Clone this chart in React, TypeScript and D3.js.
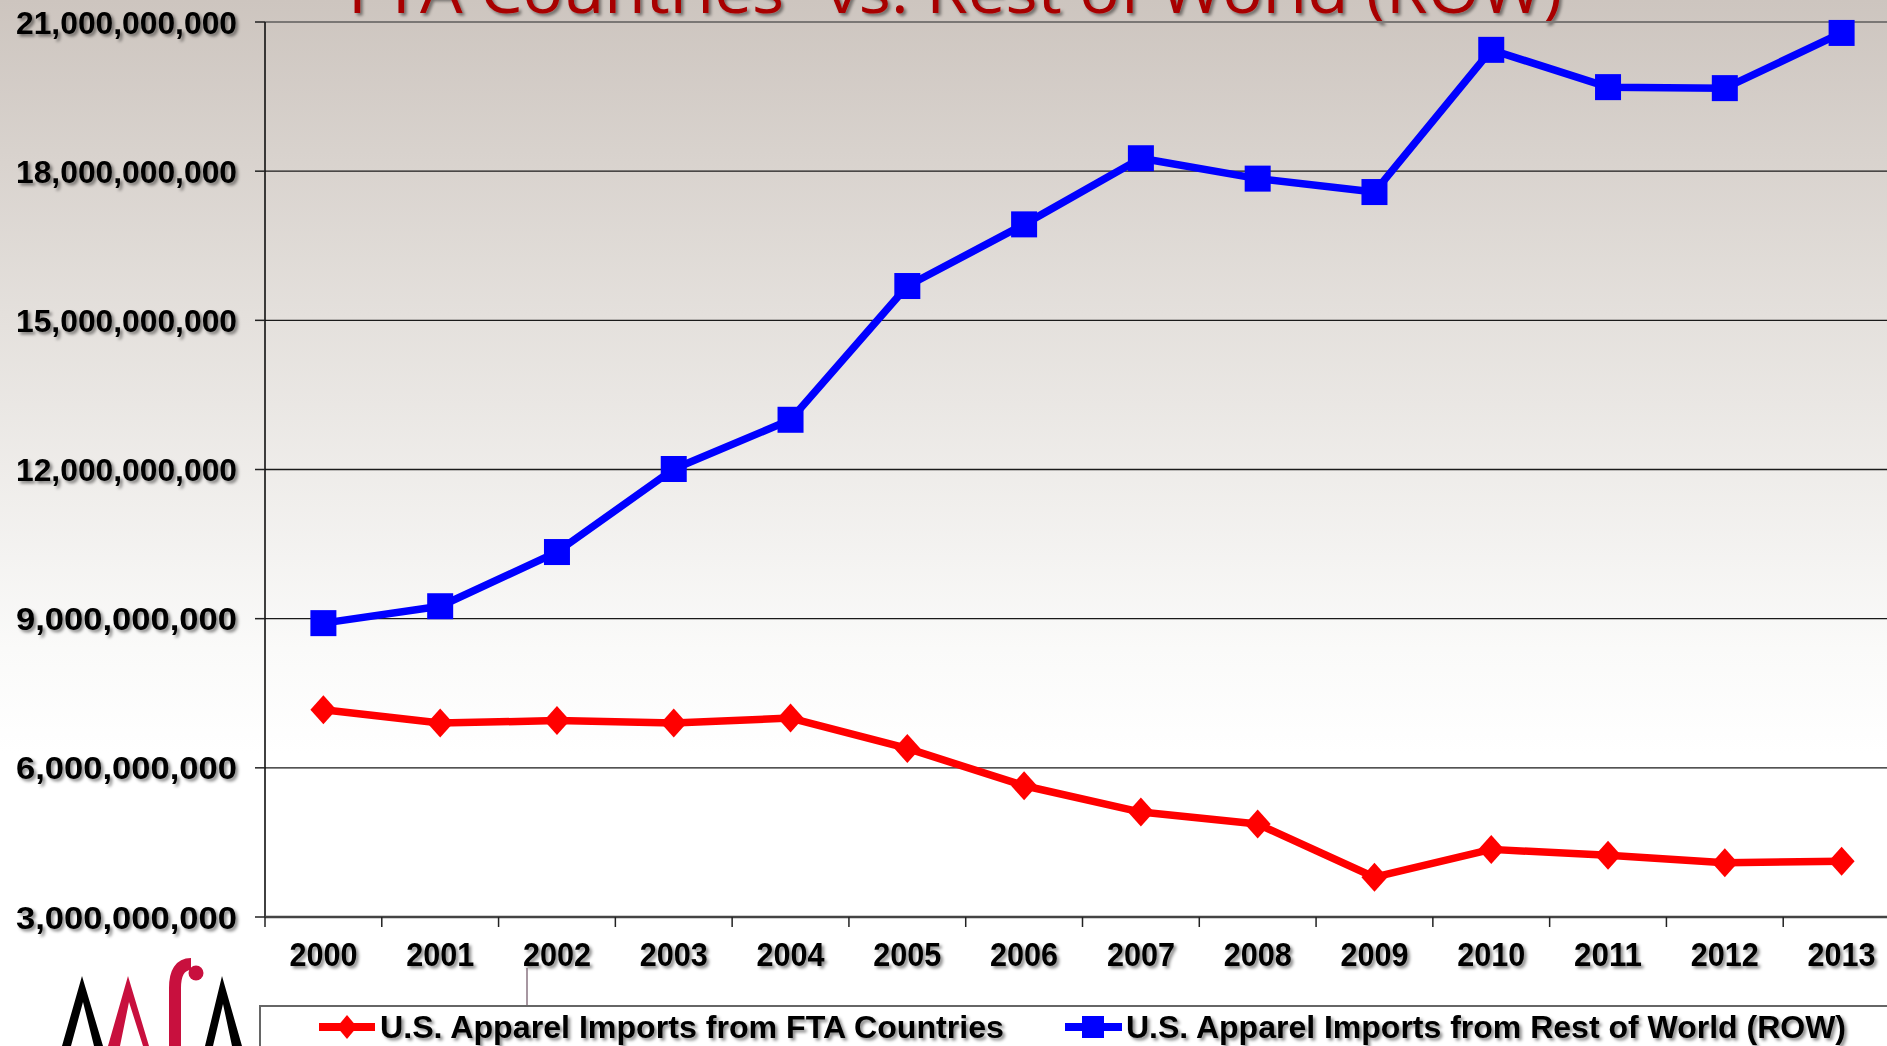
import React from 'react';
import * as d3 from 'd3';

// years on the category axis
const years = ['2000', '2001', '2002', '2003', '2004', '2005', '2006', '2007', '2008', '2009', '2010', '2011', '2012', '2013'];

// U.S. apparel imports, US dollars
const ftaImports = [7.17e9, 6.9e9, 6.95e9, 6.9e9, 7.0e9, 6.39e9, 5.64e9, 5.11e9, 4.87e9, 3.8e9, 4.36e9, 4.24e9, 4.09e9, 4.12e9];
const rowImports = [8.91e9, 9.25e9, 10.34e9, 12.01e9, 13.0e9, 15.69e9, 16.93e9, 18.26e9, 17.85e9, 17.58e9, 20.44e9, 19.69e9, 19.67e9, 20.78e9];

const yTicks = [3e9, 6e9, 9e9, 12e9, 15e9, 18e9, 21e9];

const ftaLabel = 'U.S. Apparel Imports from FTA Countries';
const rowLabel = 'U.S. Apparel Imports from Rest of World (ROW)';
const titleLine = 'FTA Countries\u201D vs. Rest of World (ROW)';

const W = 1887;
const H = 1046;

export default function App() {
  const margin = {left: 265, top: 22, right: 1900, bottom: 917};

  const x = d3.scaleBand().domain(years).range([margin.left, margin.right]).padding(0);
  const y = d3.scaleLinear().domain([3e9, 21e9]).range([margin.bottom, margin.top]);
  const cx = (yr: string) => (x(yr) as number) + x.bandwidth() / 2;

  const line = d3.line<number>()
    .x((_, i) => cx(years[i]))
    .y(d => y(d));

  const fmt = d3.format(',');
  const labelFont = '"Liberation Sans", Arial, sans-serif';

  const diamond = (px: number, py: number, w: number, h: number) =>
    `M${px},${py - h / 2}L${px + w / 2},${py}L${px},${py + h / 2}L${px - w / 2},${py}Z`;

  // band edges for x ticks
  const edges = years.map(yr => x(yr) as number).concat([margin.right]);

  return (
    <svg width={W} height={H} style={{position: 'absolute', left: 0, top: 0, display: 'block'}}>
      <defs>
        <linearGradient id="bg" x1="0" y1="0" x2="0" y2="1">
          <stop offset="0" stopColor="#cdc5bf" />
          <stop offset="0.3" stopColor="#e4e0dc" />
          <stop offset="0.62" stopColor="#fafaf9" />
          <stop offset="0.72" stopColor="#ffffff" />
          <stop offset="1" stopColor="#ffffff" />
        </linearGradient>
        <filter id="shadow" x="-10%" y="-30%" width="120%" height="160%">
          <feDropShadow dx="2.5" dy="2.5" stdDeviation="1.4" floodColor="#000" floodOpacity="0.45" />
        </filter>
      </defs>

      <rect x={0} y={0} width={W} height={H} fill="url(#bg)" />

      {/* title, cut off at top as in the slide */}
      <text x={348} y={13} fill="#a80000" fontFamily='"Open Sans", sans-serif' fontSize={64}
        textLength={1214} lengthAdjust="spacingAndGlyphs" filter="url(#shadow)">{titleLine}</text>

      {/* gridlines */}
      {yTicks.filter(t => t > 3e9).map(t => (
        <line key={t} x1={margin.left} x2={W} y1={y(t)} y2={y(t)}
          stroke={t === 21e9 ? '#7a7775' : '#1a1a1a'} strokeWidth={t === 21e9 ? 2 : 1.4} />
      ))}

      {/* y axis */}
      <line x1={margin.left} x2={margin.left} y1={margin.top} y2={margin.bottom} stroke="#111" strokeWidth={1.6} />
      {yTicks.map(t => (
        <g key={t}>
          <line x1={margin.left - 10} x2={margin.left} y1={y(t)} y2={y(t)} stroke="#222" strokeWidth={1.5} />
          <text x={237} y={y(t)} dy="0.36em" textAnchor="end" fontFamily={labelFont} fontWeight="bold"
            fontSize={32} fill="#000" textLength={221} lengthAdjust="spacingAndGlyphs"
            filter="url(#shadow)">{fmt(t)}</text>
        </g>
      ))}

      {/* x axis */}
      <line x1={margin.left} x2={W} y1={margin.bottom} y2={margin.bottom} stroke="#444" strokeWidth={2.5} />
      {edges.map((e, i) => (
        <line key={i} x1={e} x2={e} y1={margin.bottom} y2={margin.bottom + 10} stroke="#222" strokeWidth={1.5} />
      ))}
      {years.map(yr => (
        <text key={yr} x={cx(yr)} y={966} textAnchor="middle" fontFamily={labelFont} fontWeight="bold"
          fontSize={33} fill="#000" textLength={68} lengthAdjust="spacingAndGlyphs"
          filter="url(#shadow)">{yr}</text>
      ))}

      {/* series */}
      <path d={line(rowImports) as string} fill="none" stroke="#0000ff" strokeWidth={7.5} strokeLinejoin="round" />
      {rowImports.map((v, i) => (
        <rect key={i} x={cx(years[i]) - 13} y={y(v) - 13} width={26} height={26} fill="#0000ff" />
      ))}
      <path d={line(ftaImports) as string} fill="none" stroke="#ff0000" strokeWidth={7.5} strokeLinejoin="round" />
      {ftaImports.map((v, i) => (
        <path key={i} d={diamond(cx(years[i]), y(v), 26, 29)} fill="#ff0000" />
      ))}

      {/* connector from axis label to legend */}
      <line x1={527} x2={527} y1={968} y2={1006} stroke="#8a7482" strokeWidth={1.5} />

      {/* legend */}
      <rect x={260} y={1006} width={W} height={80} fill="#ffffff" stroke="#666" strokeWidth={2} />
      <line x1={319} x2={375} y1={1027} y2={1027} stroke="#ff0000" strokeWidth={8} />
      <path d={diamond(347, 1027, 20, 24)} fill="#ff0000" />
      <text x={380} y={1038} fontFamily={labelFont} fontWeight="bold" fontSize={31} fill="#000"
        textLength={624} lengthAdjust="spacingAndGlyphs" filter="url(#shadow)">{ftaLabel}</text>
      <line x1={1065} x2={1122} y1={1027} y2={1027} stroke="#0000ff" strokeWidth={8} />
      <rect x={1082} y={1016} width={22} height={22} fill="#0000ff" />
      <text x={1126} y={1038} fontFamily={labelFont} fontWeight="bold" fontSize={31} fill="#000"
        textLength={720} lengthAdjust="spacingAndGlyphs" filter="url(#shadow)">{rowLabel}</text>

      {/* AAFA logo */}
      <g>
        <path d="M62,1046L82,976L103,1046L94,1046L83,1002L71,1046Z" fill="#000" />
        <path d="M108,1046L128,976L149,1046L143,1046L129,1002L120,1046Z" fill="#c8103e" />
        <path d="M175,1046L175,988Q175,964 191,964" fill="none" stroke="#c8103e" strokeWidth={12} />
        <circle cx={196} cy={973} r={7.5} fill="#c8103e" />
        <path d="M205,1046L222,976L242,1046L232,1046L223,1004L213,1046Z" fill="#000" />
      </g>
    </svg>
  );
}
